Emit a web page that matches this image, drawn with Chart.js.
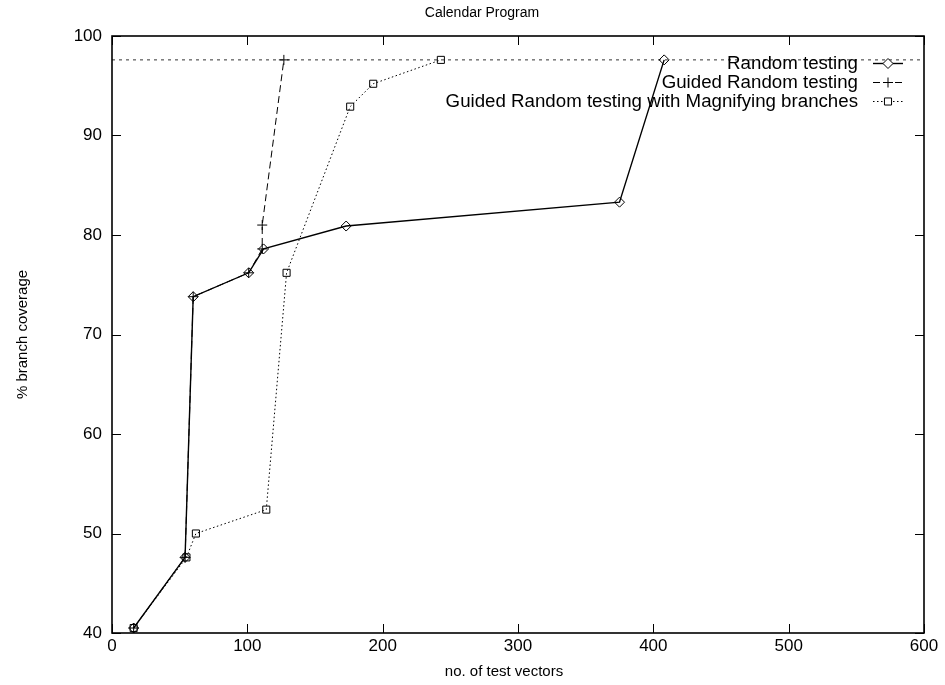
<!DOCTYPE html>
<html>
<head>
<meta charset="utf-8">
<title>Calendar Program</title>
<script src="https://cdn.jsdelivr.net/npm/chart.js@4.4.1/dist/chart.umd.min.js"></script>
<style>
    html, body { margin: 0; padding: 0; background: #fff; }
    #wrap { width: 945px; height: 685px; }
</style>
</head>
<body>
<div id="wrap"><canvas id="chart" width="945" height="685"></canvas></div>
<script>
// Dữ liệu
const randomX = [16, 54, 60, 101, 112, 173, 375, 408];
const randomY = [40.5, 47.6, 73.8, 76.2, 78.6, 80.9, 83.3, 97.6];

const guidedX = [16, 54, 60, 101, 111, 111, 127];
const guidedY = [40.5, 47.6, 73.8, 76.2, 78.6, 81.0, 97.6];

const magnifyX = [16, 55, 62, 114, 129, 176, 193, 243];
const magnifyY = [40.5, 47.6, 50.0, 52.4, 76.2, 92.9, 95.2, 97.6];

const maxCoverage = 97.6;

const xTicks = [0, 100, 200, 300, 400, 500, 600];
const yTicks = [40, 50, 60, 70, 80, 90, 100];

const FONT = "'Liberation Sans', Arial, Helvetica, sans-serif";

const toPoints = (xs, ys) => xs.map((x, i) => ({ x: x, y: ys[i] }));

// Khung, vạch chia hướng vào trong và chú thích kiểu gnuplot
const framePlugin = {
    id: 'frame',
    afterDatasetsDraw(chart) {
        const ctx = chart.ctx;
        const area = chart.chartArea;
        const xs = chart.scales.x;
        const ys = chart.scales.y;
        ctx.save();
        ctx.strokeStyle = '#000';
        ctx.lineWidth = 1.6;
        ctx.setLineDash([]);
        ctx.strokeRect(area.left, area.top, area.right - area.left, area.bottom - area.top);

        ctx.lineWidth = 1;
        const tick = 9;
        xTicks.forEach(v => {
            const px = Math.round(xs.getPixelForValue(v)) + 0.5;
            ctx.beginPath();
            ctx.moveTo(px, area.bottom); ctx.lineTo(px, area.bottom - tick);
            ctx.moveTo(px, area.top); ctx.lineTo(px, area.top + tick);
            ctx.stroke();
        });
        yTicks.forEach(v => {
            const py = Math.round(ys.getPixelForValue(v)) + 0.5;
            ctx.beginPath();
            ctx.moveTo(area.left, py); ctx.lineTo(area.left + tick, py);
            ctx.moveTo(area.right, py); ctx.lineTo(area.right - tick, py);
            ctx.stroke();
        });

        // tiêu đề và nhãn trục x
        ctx.font = '14px ' + FONT;
        ctx.textAlign = 'center';
        ctx.textBaseline = 'middle';
        ctx.fillStyle = '#000';
        ctx.fillText('Calendar Program', 482, 13);
        ctx.font = '15px ' + FONT;
        ctx.fillText('no. of test vectors', 504, 672);

        // chú thích
        const textRight = 858;
        const sampleL = 873, sampleR = 903;
        const rowY = [63, 82, 101];
        ctx.font = '18.7px ' + FONT;
        ctx.textAlign = 'right';
        chart.data.datasets.forEach((ds, i) => {
            if (ds.isRef) return;
            const y = rowY[i] + 0.5;
            ctx.fillStyle = '#000';
            ctx.fillText(ds.label, textRight, y);
            ctx.setLineDash(ds.borderDash || []);
            ctx.lineWidth = ds.borderWidth;
            ctx.strokeStyle = ds.borderColor;
            ctx.beginPath();
            ctx.moveTo(sampleL, y); ctx.lineTo(sampleR, y);
            ctx.stroke();
            ctx.setLineDash([]);
            ctx.lineWidth = 1;
            ctx.strokeStyle = '#000';
            ctx.fillStyle = '#fff';
            Chart.helpers.drawPoint(ctx, {
                pointStyle: ds.pointStyle,
                radius: ds.pointRadius,
                rotation: 0,
                borderWidth: 1
            }, (sampleL + sampleR) / 2, y);
        });
        ctx.restore();
    }
};

const ctx = document.getElementById('chart').getContext('2d');
const chart = new Chart(ctx, {
    type: 'scatter',
    data: {
        datasets: [
            {
                label: 'Random testing',
                data: toPoints(randomX, randomY),
                showLine: true,
                borderColor: '#000',
                backgroundColor: '#fff',
                borderWidth: 1.4,
                pointStyle: 'rectRot',
                pointRadius: 5,
                pointBorderColor: '#000',
                pointBackgroundColor: 'rgba(255,255,255,0)',
                pointBorderWidth: 1
            },
            {
                label: 'Guided Random testing',
                data: toPoints(guidedX, guidedY),
                showLine: true,
                borderColor: '#000',
                borderWidth: 1,
                borderDash: [7, 4],
                pointStyle: 'cross',
                pointRadius: 5,
                pointBorderColor: '#000',
                pointBorderWidth: 1
            },
            {
                label: 'Guided Random testing with Magnifying branches',
                data: toPoints(magnifyX, magnifyY),
                showLine: true,
                borderColor: '#000',
                borderWidth: 1,
                borderDash: [1.5, 2.5],
                pointStyle: 'rect',
                pointRadius: 5,
                pointBorderColor: '#000',
                pointBackgroundColor: 'rgba(255,255,255,0)',
                pointBorderWidth: 1
            },
            {
                label: 'max',
                isRef: true,
                data: toPoints([0, 600], [maxCoverage, maxCoverage]),
                showLine: true,
                borderColor: '#333',
                borderWidth: 1,
                borderDash: [3, 4],
                pointRadius: 0
            }
        ]
    },
    options: {
        responsive: false,
        animation: false,
        layout: { padding: { left: 0, right: 21, top: 36, bottom: 0 } },
        plugins: {
            legend: { display: false },
            tooltip: { enabled: false },
            title: { display: false }
        },
        scales: {
            x: {
                type: 'linear',
                min: 0,
                max: 600,
                afterBuildTicks: s => { s.ticks = xTicks.map(v => ({ value: v })); },
                afterFit: s => { s.height = 52; },
                grid: { display: false, drawTicks: false },
                border: { display: false },
                ticks: { color: '#000', padding: 3, font: { family: FONT, size: 17 } },
                title: { display: false }
            },
            y: {
                type: 'linear',
                min: 40,
                max: 100,
                afterBuildTicks: s => { s.ticks = yTicks.map(v => ({ value: v })); },
                afterFit: s => { s.width = 112; },
                grid: { display: false, drawTicks: false },
                border: { display: false },
                ticks: { color: '#000', padding: 10, font: { family: FONT, size: 17 } },
                title: {
                    display: true,
                    text: '% branch coverage',
                    color: '#000',
                    padding: { top: 14, bottom: 40 },
                    font: { family: FONT, size: 15 }
                }
            }
        }
    },
    plugins: [framePlugin]
});
</script>
</body>
</html>
